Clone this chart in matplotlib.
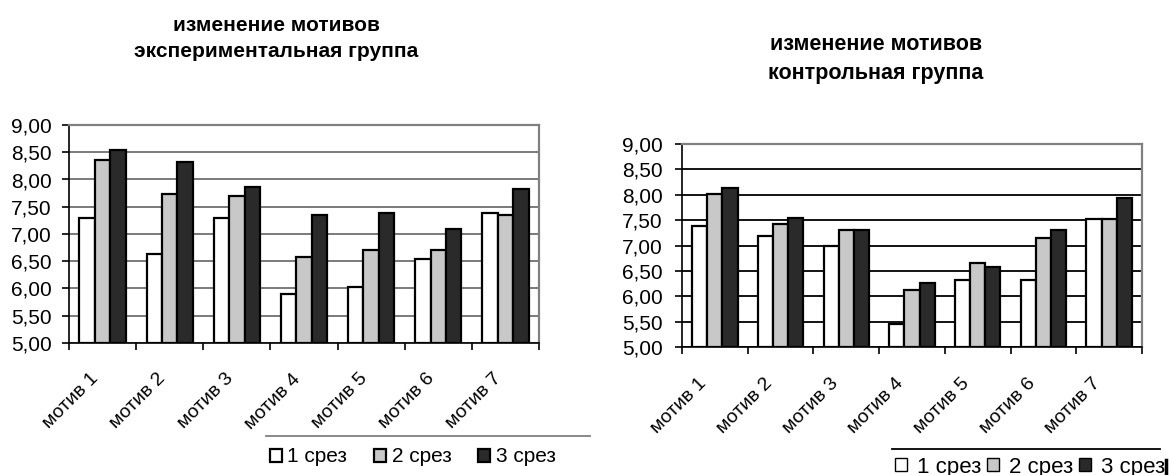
import matplotlib
matplotlib.use("Agg")
import matplotlib.pyplot as plt
import numpy as np
from matplotlib.transforms import ScaledTranslation
from matplotlib.patches import Patch
from matplotlib.lines import Line2D

plt.rcParams['font.family'] = ['Liberation Sans', 'DejaVu Sans']

categories = ["мотив 1", "мотив 2", "мотив 3", "мотив 4", "мотив 5", "мотив 6", "мотив 7"]
series_names = ["1 срез", "2 срез", "3 срез"]
exp_s1 = [7.29, 6.64, 7.29, 5.90, 6.03, 6.55, 7.38]
exp_s2 = [8.35, 7.74, 7.70, 6.58, 6.70, 6.70, 7.35]
exp_s3 = [8.54, 8.32, 7.87, 7.35, 7.38, 7.09, 7.83]
ctl_s1 = [7.38, 7.18, 6.99, 5.45, 6.32, 6.32, 7.53]
ctl_s2 = [8.01, 7.42, 7.30, 6.12, 6.66, 7.14, 7.53]
ctl_s3 = [8.13, 7.54, 7.30, 6.27, 6.58, 7.30, 7.93]
y_ticks = [5.0, 5.5, 6.0, 6.5, 7.0, 7.5, 8.0, 8.5, 9.0]
y_labels = ["5,00", "5,50", "6,00", "6,50", "7,00", "7,50", "8,00", "8,50", "9,00"]
title_exp = "изменение мотивов\nэкспериментальная группа"
title_ctl = "изменение мотивов\nконтрольная группа"

colors = ["#ffffff", "#c8c8c8", "#2a2a2a"]

W, H = 1171, 475
fig = plt.figure(figsize=(W / 100, H / 100), dpi=100)

def px_axes(x0, y0, x1, y1):
    return fig.add_axes([x0 / W, 1 - y1 / H, (x1 - x0) / W, (y1 - y0) / H])

def draw(ax, series, grid_color, label_dx, label_pad, ypad):
    n = len(categories)
    x = np.arange(n)
    bw = 0.23
    for i, vals in enumerate(series):
        ax.bar(x + (i - 1) * bw, np.array(vals) - 5.0, bw, bottom=5.0,
               color=colors[i], edgecolor="black", linewidth=1.6, zorder=3)
    ax.set_xlim(-0.5, n - 0.5)
    ax.set_ylim(5.0, 9.0)
    ax.set_yticks(y_ticks)
    ax.set_yticklabels(y_labels, fontsize=15)
    ax.yaxis.grid(True, color=grid_color, linewidth=1.3, zorder=0)
    ax.set_xticks(x)
    ax.set_xticklabels(categories, fontsize=14, rotation=45,
                       ha="right", va="center", rotation_mode="anchor")
    ax.set_xticks(np.arange(-0.5, n, 1.0), minor=True)
    ax.tick_params(axis="x", which="major", length=0, pad=label_pad)
    ax.tick_params(axis="x", which="minor", length=5, width=1.2, direction="out")
    ax.tick_params(axis="y", length=5, width=1.2, direction="out", pad=ypad)
    off = ScaledTranslation(label_dx / 100, 0, fig.dpi_scale_trans)
    for lab in ax.get_xticklabels():
        lab.set_transform(lab.get_transform() + off)
    ax.spines["left"].set_color("black")
    ax.spines["bottom"].set_color("black")
    ax.spines["left"].set_linewidth(1.2)
    ax.spines["bottom"].set_linewidth(1.2)
    ax.spines["top"].set_color("#808080")
    ax.spines["right"].set_color("#808080")
    ax.spines["top"].set_linewidth(1.6)
    ax.spines["right"].set_linewidth(1.6)
    ax.set_axisbelow(True)

ax1 = px_axes(69, 125, 539, 343)
draw(ax1, [exp_s1, exp_s2, exp_s3], "#707070", -6.5, 24, 7.5)
ax2 = px_axes(682, 144, 1142, 347)
draw(ax2, [ctl_s1, ctl_s2, ctl_s3], "black", -11, 24.5, 9)

fig.text(276 / W, 1 - 38.5 / H, title_exp, ha="center", va="center",
         fontsize=15, fontweight="bold", linespacing=1.46)
fig.text(876 / W, 1 - 59 / H, title_ctl, ha="center", va="center",
         fontsize=15.5, fontweight="bold", linespacing=1.46)

handles = [Patch(facecolor=c, edgecolor="black", linewidth=1.6) for c in colors]
handles2 = [Patch(facecolor=c, edgecolor="black", linewidth=1.0) for c in colors]

leg1 = fig.legend(handles, series_names, loc="center left",
                  bbox_to_anchor=(270 / W, 1 - 457 / H), ncol=3, frameon=False,
                  fontsize=15, handlelength=0.58, handleheight=0.58,
                  handletextpad=0.25, columnspacing=1.3, borderpad=0,
                  borderaxespad=0)
leg2 = fig.legend(handles2, series_names, loc="center left",
                  bbox_to_anchor=(895 / W, 1 - 467 / H), ncol=3, frameon=False,
                  fontsize=16, handlelength=0.54, handleheight=0.54,
                  handletextpad=0.45, columnspacing=0.25, borderpad=0,
                  borderaxespad=0)

fig.add_artist(Line2D([266 / W, 590 / W], [1 - 436 / H, 1 - 436 / H],
                      color="#808080", linewidth=1.3))
fig.add_artist(Line2D([892 / W, 1160 / W], [1 - 449 / H, 1 - 449 / H],
                      color="black", linewidth=1.3))
fig.add_artist(Line2D([1166 / W, 1166 / W], [1 - 460 / H, 0],
                      color="black", linewidth=2.5))

fig.savefig("out.png", dpi=100)
